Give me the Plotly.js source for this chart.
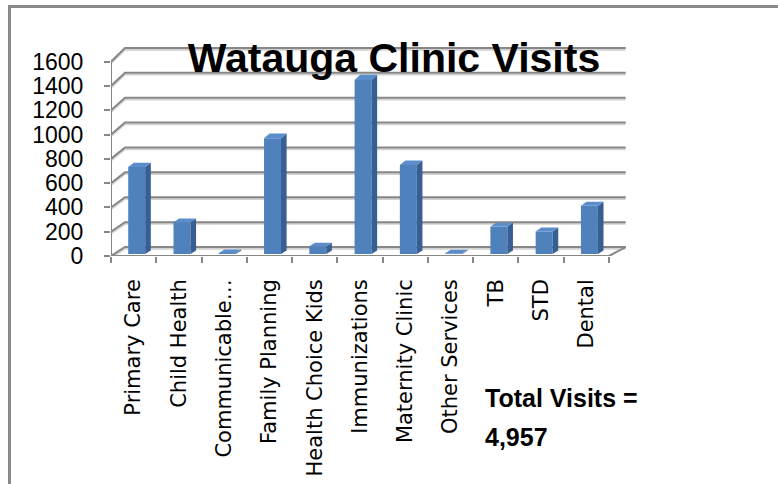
<!DOCTYPE html>
<html>
<head>
<meta charset="utf-8">
<script src="https://cdn.plot.ly/plotly-3.0.1.min.js"></script>
<style>
  html, body { margin: 0; padding: 0; background: #ffffff; overflow: hidden; width: 778px; height: 484px; }
  #frame { position: absolute; left: 8px; top: 5px; width: 770px; height: 479px;
           border-left: 3px solid #8a8a8a; border-top: 3px solid #8a8a8a; border-right: 0; border-bottom: 0;
           box-sizing: border-box; }
  #chart { position: absolute; left: 0; top: 0; width: 778px; height: 484px; }
  #cover { position: absolute; left: 760px; top: 12px; width: 18px; height: 472px; background: #ffffff; z-index: 10; }
</style>
</head>
<body>
<div id="frame"></div>
<div id="chart"></div>
<div id="cover"></div>
<script>
// ---- data ----
const categories = ["Primary Care", "Child Health", "Communicable\u2026", "Family Planning",
  "Health Choice Kids", "Immunizations", "Maternity Clinic", "Other Services", "TB", "STD", "Dental"];
const visits = [712, 260, 8, 948, 63, 1425, 730, 6, 225, 185, 395];
const yTickVals = [0, 200, 400, 600, 800, 1000, 1200, 1400, 1600];
const yTickText = ["0", "200", "400", "600", "800", "1000", "1200", "1400", "1600"];
const chartTitle = "Watauga Clinic Visits";
const totalLabel = "Total Visits =";

// ---- 3D oblique projection helpers (depth d: 0 = front, 1 = back wall) ----
const DX = 0.309, DY = 74, PERSP = 0.0244;
function px(x, d) { return x + d * DX; }
function py(v, d) { return v * (1 + d * PERSP) + d * DY; }
const D0 = 0.22, D1 = 0.62, HW = 0.1875;
const nCat = categories.length;
const xLeft = -0.5, xRight = nCat - 0.5;
const gridCol = "#878787", shadowCol = "#d2d2d2";

const traces = [];

// walls: connectors on left wall + back wall gridlines (with light shadow)
function wallPath(offY) {
  const xs = [], ys = [];
  yTickVals.forEach(v => {
    xs.push(px(xLeft, 0), px(xLeft, 1), px(xRight, 1) + 0.06, null);
    ys.push(py(v, 0) - offY, py(v, 1) - offY, py(v, 1) - offY, null);
  });
  return {xs, ys};
}
const sh = wallPath(14);
traces.push({type: "scatter", mode: "lines", x: sh.xs, y: sh.ys, xaxis: "x", yaxis: "y",
  line: {color: shadowCol, width: 2}, hoverinfo: "skip", showlegend: false});
const wp = wallPath(0);
traces.push({type: "scatter", mode: "lines", x: wp.xs, y: wp.ys, xaxis: "x", yaxis: "y",
  line: {color: gridCol, width: 2}, hoverinfo: "skip", showlegend: false});
// floor front edge, right edge, front value-axis line
traces.push({type: "scatter", mode: "lines",
  x: [px(xLeft, 0), px(xRight, 0), px(xRight, 1) + 0.06, null, px(xLeft, 0), px(xLeft, 0)],
  y: [0, 0, py(0, 1), null, 0, yTickVals[yTickVals.length - 1]],
  xaxis: "x", yaxis: "y", line: {color: gridCol, width: 2}, hoverinfo: "skip", showlegend: false});

// bars: front faces
traces.push({type: "bar", x: categories.map((c, i) => px(i, D0)), y: visits.map(v => py(v, D0) - py(0, D0)),
  base: visits.map(() => py(0, D0)), width: 2 * HW, xaxis: "x2", yaxis: "y2",
  marker: {color: "#4f81bd", line: {width: 0}}, hoverinfo: "skip", showlegend: false});
// side and top faces
visits.forEach((v, i) => {
  const xl0 = px(i - HW, D0), xr0 = px(i + HW, D0), xl1 = px(i - HW, D1), xr1 = px(i + HW, D1);
  traces.push({type: "scatter", mode: "lines", fill: "toself", fillcolor: "#385f94",
    x: [xr0, xr0, xr1, xr1, xr0], y: [py(0, D0), py(v, D0), py(v, D1), py(0, D1), py(0, D0)],
    xaxis: "x2", yaxis: "y2", line: {width: 0, color: "#385f94"}, hoverinfo: "skip", showlegend: false});
  traces.push({type: "scatter", mode: "lines", fill: "toself", fillcolor: "#5b8dcb",
    x: [xl0, xr0, xr1, xl1, xl0], y: [py(v, D0), py(v, D0), py(v, D1), py(v, D1), py(v, D0)],
    xaxis: "x2", yaxis: "y2", line: {width: 0, color: "#5b8dcb"}, hoverinfo: "skip", showlegend: false});
});

const xRange = [xLeft, xRight + 0.376];
const yRange = [0, 1721];
const L = 111, R = 626, T = 47, B = 256;
const total = visits.reduce((a, b) => a + b, 0);

const layout = {
  width: 778, height: 484,
  margin: {l: L, r: 778 - R, t: T, b: 484 - B, pad: 0},
  paper_bgcolor: "rgba(0,0,0,0)", plot_bgcolor: "rgba(0,0,0,0)",
  showlegend: false,
  title: {text: chartTitle, font: {family: "Liberation Sans", size: 41, color: "#000", weight: "bold"},
    x: 394 / 778, xref: "container", xanchor: "center", y: 1 - 58 / 484, yref: "container", yanchor: "middle"},
  xaxis: {range: xRange, domain: [0, 1], anchor: "y", showgrid: false, zeroline: false, showline: false,
    tickmode: "array", tickvals: categories.map((c, i) => i - 0.5).concat([xRight]), showticklabels: false,
    ticks: "outside", ticklen: 6, tickwidth: 2, tickcolor: gridCol, fixedrange: true},
  yaxis: {range: yRange, domain: [0, 1], anchor: "x", showgrid: false, zeroline: false, showline: false,
    tickmode: "array", tickvals: yTickVals, ticktext: yTickText,
    ticks: "outside", ticklen: 6, tickwidth: 2, tickcolor: gridCol, ticklabelstandoff: 16,
    tickfont: {family: "Liberation Sans", size: 23, color: "#000"}, fixedrange: true},
  xaxis2: {range: xRange, domain: [0, 1], anchor: "y2", showgrid: false, zeroline: false, showline: false,
    tickmode: "array", tickvals: categories.map((c, i) => i), ticktext: categories, tickangle: -90,
    ticks: "", ticklabelstandoff: 18, tickfont: {family: "DejaVu Sans", size: 21, color: "#000"}, fixedrange: true},
  yaxis2: {range: yRange, domain: [0, 1], anchor: "x2", showgrid: false, zeroline: false, showline: false,
    showticklabels: false, ticks: "", fixedrange: true},
  annotations: [
    {text: "<b>" + totalLabel + "</b>", xref: "paper", yref: "paper", x: (483 - L) / (R - L), y: (B - 398) / (B - T),
      xanchor: "left", yanchor: "middle", showarrow: false, font: {family: "Liberation Sans", size: 25, color: "#000"}},
    {text: "<b>" + total.toLocaleString("en-US") + "</b>", xref: "paper", yref: "paper", x: (483 - L) / (R - L), y: (B - 437) / (B - T),
      xanchor: "left", yanchor: "middle", showarrow: false, font: {family: "Liberation Sans", size: 25, color: "#000"}}
  ]
};

Plotly.newPlot("chart", traces, layout, {displayModeBar: false, staticPlot: true});
</script>
</body>
</html>
